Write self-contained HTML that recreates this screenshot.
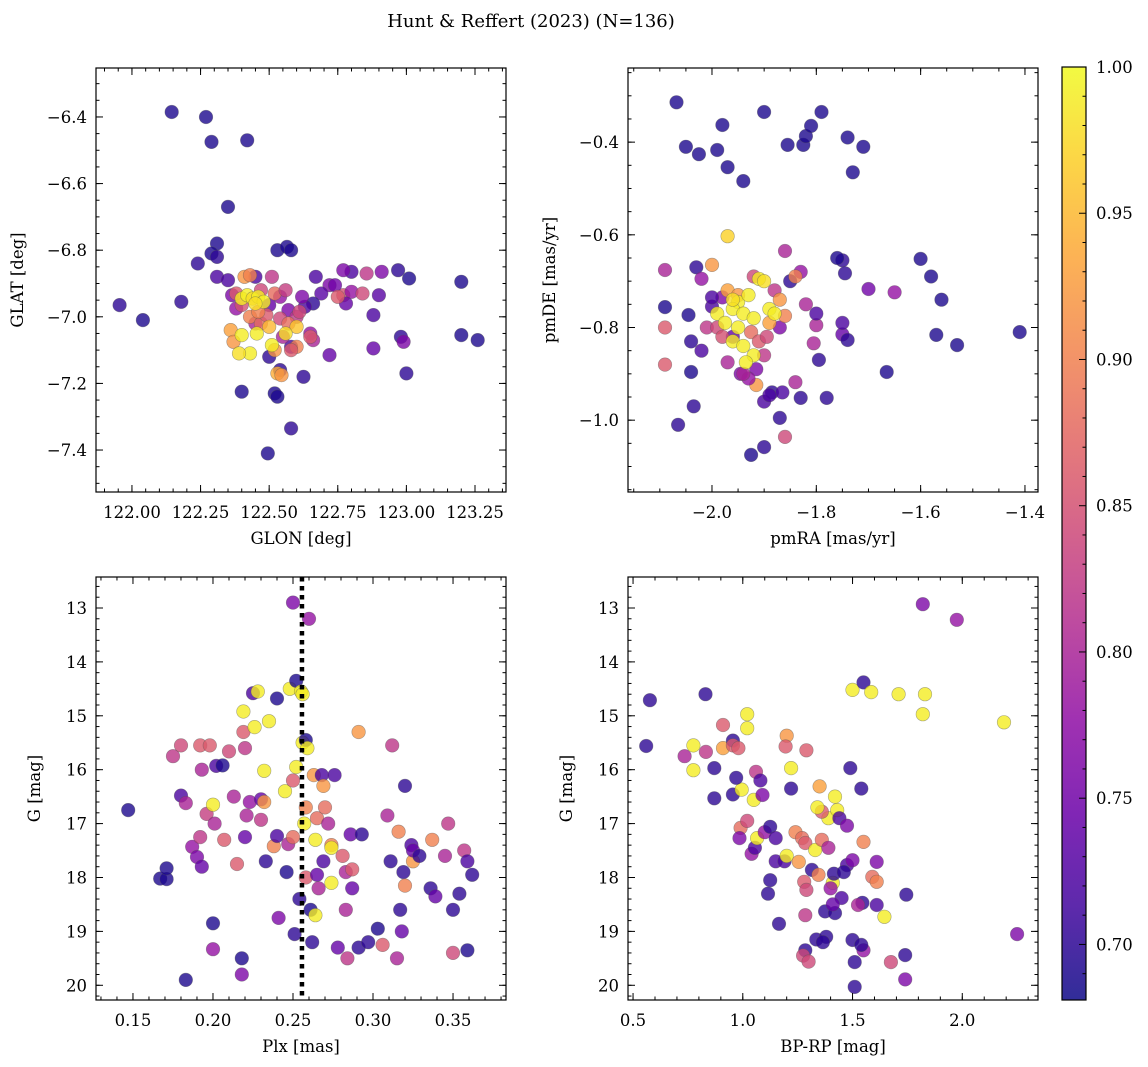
<!DOCTYPE html>
<html><head><meta charset="utf-8">
<style>
html,body{margin:0;padding:0;background:#fff;}
svg{display:block;font-family:"DejaVu Serif","Liberation Serif",serif;}
</style></head>
<body>
<svg id="fig" width="1148" height="1067" viewBox="0 0 1148 1067" xmlns="http://www.w3.org/2000/svg">
<text x="531" y="27" font-size="18" text-anchor="middle">Hunt &amp; Reffert (2023) (N=136)</text>
</svg>
<script>
// ---------- data: panel 1 (GLON / GLAT) ----------
const p1Glon=[122.145,122.27,122.29,122.42,122.35,121.955,122.04,122.18,122.24,122.31,122.29,122.31,122.31,122.40,122.495,122.52,122.53,122.58,122.58,122.53,122.565,122.58,122.625,122.54,123.20,123.20,123.26,123.01,122.97,122.98,123.00,122.99,122.91,122.88,122.90,122.80,122.77,122.855,122.72,122.69,122.77,122.80,122.67,122.72,122.88,122.78,122.66,122.63,122.65,122.74,122.84,122.75,
122.365,122.38,122.45,122.50,122.54,122.57,122.60,122.55,122.47,122.52,122.56,122.62,122.45,122.35,122.50,122.51,122.66,122.61,122.65,
122.41,122.43,122.38,122.40,122.43,122.36,122.37,122.47,122.49,122.54,122.57,122.60,122.58,122.53,122.545,122.46,122.52,
122.40,122.42,122.44,122.46,122.48,122.45,122.40,122.455,122.51,122.43,122.39,122.60,122.50,122.56];
const p1Glat=[-6.385,-6.40,-6.475,-6.47,-6.67,-6.965,-7.01,-6.955,-6.84,-6.78,-6.81,-6.82,-6.88,-7.225,-7.41,-7.23,-7.24,-7.09,-7.335,-6.80,-6.79,-6.80,-7.18,-7.16,-6.895,-7.055,-7.07,-6.885,-6.86,-7.06,-7.17,-7.075,-6.865,-6.995,-6.935,-6.865,-6.86,-6.87,-6.905,-6.93,-6.935,-6.925,-6.88,-7.115,-7.095,-6.96,-6.96,-6.97,-7.05,-6.905,-6.93,-6.94,
-6.935,-6.975,-7.02,-6.965,-6.94,-6.98,-7.00,-7.06,-6.92,-6.93,-6.92,-6.94,-6.88,-6.89,-7.12,-6.88,-7.07,-6.985,-7.06,
-6.88,-6.875,-6.93,-6.965,-7.00,-7.04,-7.075,-7.02,-6.995,-7.005,-7.02,-7.09,-7.10,-7.17,-7.175,-6.985,-7.10,
-6.945,-6.935,-6.945,-6.94,-6.955,-6.96,-7.055,-7.05,-7.085,-7.11,-7.11,-7.03,-7.03,-7.05];
const p1Prob=[0.69,0.69,0.69,0.69,0.69,0.70,0.69,0.70,0.70,0.69,0.69,0.70,0.72,0.69,0.69,0.69,0.69,0.72,0.70,0.69,0.69,0.69,0.70,0.70,0.69,0.69,0.69,0.69,0.70,0.70,0.70,0.76,0.76,0.72,0.73,0.72,0.76,0.82,0.76,0.73,0.85,0.78,0.72,0.74,0.74,0.74,0.70,0.72,0.78,0.75,0.84,0.86,
0.76,0.78,0.80,0.74,0.78,0.76,0.82,0.80,0.84,0.88,0.83,0.76,0.72,0.72,0.70,0.82,0.80,0.84,0.86,
0.92,0.90,0.86,0.85,0.90,0.93,0.92,0.88,0.86,0.84,0.88,0.90,0.86,0.94,0.92,0.90,0.92,
0.99,0.99,0.98,0.99,0.99,0.98,0.99,0.99,0.99,0.99,0.98,0.96,0.95,0.98];
// ---------- data: panel 2 (pmRA / pmDE) ----------
const p2Pmra=[-2.068,-2.05,-2.025,-1.99,-1.98,-1.97,-1.94,-1.90,-1.855,-1.825,-1.82,-1.81,-1.79,-1.74,-1.71,-1.73,
-1.60,-1.58,-1.56,-1.57,-1.53,-1.41,-1.665,-1.65,-1.70,-1.75,-1.76,-1.745,-1.75,-1.75,-1.74,-1.795,-1.78,-1.805,-1.80,
-2.09,-2.09,-2.09,-2.09,-2.065,-2.035,-2.04,-2.045,-2.03,-2.02,-2.04,-2.02,-2.01,-2.0,-2.0,
-1.925,-1.90,-1.86,-1.87,-1.90,-1.885,-1.865,-1.84,-1.83,-1.97,-1.945,-1.915,-1.89,
-1.98,-2.0,-1.96,-1.87,-1.88,-1.82,-1.85,-1.83,-1.86,-1.80,-1.90,-1.915,-1.97,-1.93,
-1.97,-1.95,-1.89,-1.86,-1.87,-1.84,-1.925,-1.91,-1.895,-1.92,-1.99,-1.98,-1.94,
-1.95,-1.93,-1.91,-1.90,-1.96,-1.94,-1.92,-1.95,-1.96,-1.94,-1.92,-1.935,-1.89,-1.88,-1.99,-1.975,-1.96];
const p2Pmde=[-0.314,-0.41,-0.426,-0.417,-0.363,-0.454,-0.484,-0.335,-0.406,-0.406,-0.387,-0.365,-0.335,-0.39,-0.41,-0.465,
-0.652,-0.69,-0.74,-0.816,-0.838,-0.81,-0.896,-0.724,-0.717,-0.655,-0.65,-0.683,-0.815,-0.79,-0.827,-0.87,-0.952,-0.834,-0.795,
-0.676,-0.80,-0.88,-0.756,-1.01,-0.97,-0.896,-0.773,-0.67,-0.695,-0.83,-0.85,-0.80,-0.665,-0.755,
-1.075,-1.058,-1.036,-0.995,-0.96,-0.94,-0.94,-0.918,-0.952,-0.603,-0.90,-0.924,-0.946,
-0.735,-0.735,-0.82,-0.80,-0.72,-0.75,-0.70,-0.68,-0.635,-0.77,-0.86,-0.89,-0.875,-0.91,
-0.72,-0.73,-0.79,-0.775,-0.74,-0.69,-0.81,-0.83,-0.82,-0.69,-0.80,-0.82,-0.90,
-0.745,-0.73,-0.695,-0.70,-0.76,-0.77,-0.78,-0.80,-0.83,-0.84,-0.86,-0.875,-0.76,-0.77,-0.77,-0.79,-0.74];
const p2Prob=[0.69,0.69,0.69,0.69,0.69,0.69,0.69,0.69,0.69,0.69,0.69,0.69,0.69,0.69,0.69,0.69,
0.69,0.69,0.69,0.69,0.69,0.69,0.69,0.78,0.75,0.70,0.69,0.70,0.74,0.72,0.70,0.70,0.70,0.80,0.80,
0.80,0.86,0.86,0.69,0.70,0.70,0.69,0.69,0.70,0.78,0.70,0.72,0.82,0.92,0.72,
0.69,0.70,0.84,0.70,0.72,0.70,0.72,0.80,0.70,0.97,0.76,0.92,0.72,
0.76,0.72,0.74,0.76,0.82,0.80,0.70,0.78,0.80,0.72,0.82,0.76,0.80,0.78,
0.93,0.92,0.93,0.90,0.92,0.90,0.88,0.86,0.84,0.84,0.84,0.85,0.80,
0.99,0.99,0.99,0.98,0.99,0.99,0.99,0.99,0.99,0.99,0.99,0.99,0.99,0.99,0.99,0.99,0.98];
// ---------- data: panel 3 (Plx / G) ----------
const p3Plx=[0.183,0.147,0.167,0.171,0.171,0.175,0.180,0.180,0.183,0.187,0.190,0.192,0.193,0.192,0.193,0.196,0.198,0.200,0.200,0.200,0.201,0.202,0.206,0.207,0.210,0.213,0.215,0.218,0.218,0.219,0.219,0.220,0.220,0.221,0.223,0.225,0.226,0.228,0.230,0.230,0.232,0.232,0.233,0.235,0.238,0.240,0.240,0.241,0.245,0.246,0.247,0.248,0.250,0.250,0.250,0.251,0.252,0.252,0.254,0.255,0.256,0.256,0.257,0.258,0.258,0.258,0.259,0.260,0.261,0.262,0.263,0.264,0.264,0.265,0.265,0.266,0.268,0.269,0.269,0.270,0.272,0.274,0.274,0.274,0.276,0.278,0.281,0.283,0.283,0.284,0.286,0.287,0.287,0.291,0.291,0.293,0.297,0.303,0.306,0.309,0.311,0.312,0.315,0.316,0.317,0.318,0.319,0.320,0.320,0.324,0.325,0.325,0.329,0.336,0.337,0.339,0.345,0.347,0.350,0.350,0.354,0.357,0.359,0.359,0.362];
const p3G=[19.90,16.75,18.02,18.03,17.83,15.75,15.55,16.48,16.62,17.43,17.62,17.25,17.80,15.55,16.00,16.82,15.55,16.65,18.85,19.33,17.00,15.93,15.92,17.30,15.66,16.50,17.75,19.50,19.80,14.92,15.30,15.60,17.25,16.85,16.60,14.58,15.21,14.55,16.55,16.93,16.02,16.60,17.70,15.10,17.42,14.68,17.23,18.75,16.40,17.90,17.38,14.50,12.90,16.20,17.25,19.05,15.95,14.35,18.40,14.55,14.60,15.50,17.00,15.45,18.00,16.70,15.60,13.20,18.60,19.20,16.10,17.30,18.70,16.90,17.95,18.20,16.10,16.30,17.70,16.70,17.00,17.40,17.45,18.10,16.10,19.30,17.60,17.90,18.60,19.50,17.20,17.85,18.20,15.30,19.30,17.20,19.20,18.95,19.25,16.85,17.70,15.55,19.50,17.15,18.60,19.00,17.90,18.15,16.30,17.40,17.70,17.50,17.60,18.20,17.30,18.35,17.60,17.00,18.60,19.40,18.30,17.50,19.35,17.70,17.95];
const p3Prob=[0.69,0.69,0.69,0.69,0.69,0.82,0.84,0.72,0.80,0.78,0.76,0.82,0.74,0.86,0.80,0.83,0.86,0.99,0.69,0.78,0.80,0.72,0.69,0.86,0.84,0.80,0.86,0.69,0.76,0.99,0.86,0.82,0.74,0.80,0.78,0.72,0.99,0.99,0.74,0.82,0.99,0.92,0.70,0.99,0.90,0.69,0.72,0.76,0.99,0.69,0.80,0.99,0.76,0.86,0.88,0.70,0.99,0.69,0.70,0.99,0.99,0.99,0.99,0.69,0.86,0.90,0.99,0.78,0.69,0.70,0.92,0.99,0.99,0.88,0.74,0.80,0.72,0.92,0.72,0.88,0.80,0.90,0.99,0.99,0.72,0.74,0.86,0.80,0.80,0.82,0.74,0.86,0.74,0.92,0.70,0.70,0.70,0.69,0.86,0.80,0.70,0.82,0.80,0.90,0.70,0.74,0.70,0.90,0.70,0.72,0.92,0.74,0.70,0.70,0.90,0.74,0.80,0.82,0.70,0.84,0.70,0.82,0.69,0.72,0.70];
const p3Cut=[0.2556];
// ---------- data: panel 4 (BP-RP / G) ----------
const p4Bprp=[0.577,0.56,0.83,0.735,0.775,0.775,0.832,0.87,0.91,0.91,0.955,0.955,0.98,1.02,1.02,0.87,0.955,0.995,0.97,1.06,1.08,1.05,1.09,1.20,1.195,1.29,1.22,1.22,1.35,1.42,1.39,1.36,1.43,1.34,1.44,1.49,1.54,1.50,1.55,1.585,1.71,1.83,1.82,1.82,1.975,2.19,2.25,
0.99,1.02,0.985,1.04,1.055,1.065,1.10,1.125,1.15,1.15,1.19,1.125,1.115,1.165,1.20,1.24,1.27,1.285,1.255,1.28,1.29,1.285,1.285,1.275,1.30,1.335,1.315,1.345,1.33,1.36,1.39,1.375,1.42,1.38,1.365,1.41,1.40,1.415,1.45,1.41,1.475,1.475,1.50,1.46,1.50,1.51,1.51,1.55,1.54,1.55,1.545,1.59,1.61,1.61,1.61,1.525,1.645,1.745,1.675,1.74,1.74];
const p4G=[14.71,15.56,14.6,15.75,15.55,16.01,15.67,15.97,15.17,15.6,15.46,15.55,15.6,14.97,15.23,16.53,16.46,16.37,16.15,16.04,16.2,16.56,16.47,15.37,15.57,15.64,15.97,16.35,16.31,16.5,16.9,16.78,16.75,16.7,16.9,15.97,16.35,14.52,14.38,14.56,14.6,14.6,14.97,12.93,13.22,15.12,19.05,
17.08,16.95,17.27,17.56,17.45,17.27,17.16,17.06,17.27,17.7,17.7,18.05,18.3,18.86,17.6,17.16,17.27,17.36,17.71,18.08,18.23,18.7,19.35,19.45,19.56,19.15,17.86,17.95,17.49,17.3,17.45,18.63,18.66,19.1,19.2,18.1,18.2,17.93,18.38,18.5,17.04,17.77,17.68,17.9,19.16,19.57,20.03,19.35,19.25,17.34,18.47,17.99,18.08,17.71,18.51,18.51,18.73,18.32,19.57,19.44,19.89];
const p4Prob=[0.70,0.70,0.70,0.80,0.99,0.99,0.82,0.70,0.86,0.93,0.70,0.86,0.86,0.99,0.99,0.70,0.70,0.99,0.70,0.82,0.72,0.99,0.76,0.92,0.86,0.86,0.99,0.70,0.93,0.99,0.99,0.86,0.99,0.99,0.72,0.70,0.70,0.99,0.70,0.99,0.99,0.99,0.99,0.76,0.78,0.99,0.76,
0.88,0.84,0.76,0.78,0.72,0.99,0.78,0.70,0.72,0.72,0.72,0.70,0.70,0.70,0.99,0.90,0.88,0.86,0.92,0.86,0.84,0.82,0.70,0.84,0.84,0.70,0.70,0.90,0.99,0.88,0.80,0.70,0.70,0.70,0.70,0.99,0.78,0.70,0.72,0.74,0.76,0.72,0.76,0.70,0.70,0.70,0.70,0.78,0.70,0.90,0.70,0.88,0.90,0.76,0.72,0.80,0.99,0.70,0.84,0.70,0.76];
// ---------- colour scale ----------
const cbTicks=[0.70,0.75,0.80,0.85,0.90,0.95,1.00];
const cbMin=0.681, cbMax=1.0;

const NS='http://www.w3.org/2000/svg';
const svg=document.getElementById('fig');
const FS=16.5;
function mk(tag,attrs,parent){const e=document.createElementNS(NS,tag);for(const k in attrs)e.setAttribute(k,attrs[k]);(parent||svg).appendChild(e);return e;}
const plasma=[[13,8,135],[65,4,157],[106,0,168],[143,13,164],[177,42,144],[204,71,120],[225,100,98],[242,132,75],[252,166,54],[252,206,37],[240,249,33]];
function cmap(v){let t=(v-cbMin)/(cbMax-cbMin);t=Math.max(0,Math.min(1,t));const f=t*10;const i=Math.min(9,Math.floor(f));const r=f-i;const a=plasma[i],b=plasma[i+1];return `rgb(${Math.round(a[0]+(b[0]-a[0])*r)},${Math.round(a[1]+(b[1]-a[1])*r)},${Math.round(a[2]+(b[2]-a[2])*r)})`;}
function fmt(v,d){return (v<0?'\u2212':'')+Math.abs(v).toFixed(d);}

function panel(cfg){
  const {name,L,T,W,H,xd,yd,yinv,xmaj,xmin,ymaj,ymin,xdec,ydec,xlab,ylab,ylabX,xs,ys,cs}=cfg;
  const g=mk('g',{});
  
  
  const sx=v=>L+(v-xd[0])/(xd[1]-xd[0])*W;
  const sy=v=>yinv? T+(v-yd[0])/(yd[1]-yd[0])*H : T+H-(v-yd[0])/(yd[1]-yd[0])*H;
  const cid='clip-'+name;
  const cp=mk('clipPath',{id:cid},g);mk('rect',{x:L,y:T,width:W,height:H},cp);
  const pts=mk('g',{'clip-path':`url(#${cid})`},g);
  
  
  for(let i=0;i<xs.length;i++){
    const c=mk('circle',{cx:sx(xs[i]).toFixed(1),cy:sy(ys[i]).toFixed(1),r:6.8,fill:cmap(cs[i]),'fill-opacity':0.8,stroke:'#555','stroke-opacity':0.5,'stroke-width':0.6},pts);
    
    
  }
  if(cfg.vline){for(const v of cfg.vline){const l=mk('line',{x1:sx(v),x2:sx(v),y1:T,y2:T+H,stroke:'#000','stroke-width':4.5,'stroke-dasharray':'4.5 4.5'},pts);
    
    }}
  const fr=mk('rect',{x:L,y:T,width:W,height:H,fill:'none',stroke:'#000','stroke-width':1.2},g);
  
  
  const eps=1e-9;
  function ticksX(step,len,label){const s=Math.ceil((xd[0]-eps)/step);for(let k=s;k*step<=xd[1]+eps;k++){const v=k*step;const x=sx(v);
    mk('line',{x1:x,x2:x,y1:T+H,y2:T+H-len,stroke:'#000','stroke-width':1},g);mk('line',{x1:x,x2:x,y1:T,y2:T+len,stroke:'#000','stroke-width':1},g);
    if(label){const t=mk('text',{x:x,y:T+H+26,'font-size':FS,'text-anchor':'middle'},g);t.textContent=fmt(v,xdec);
      
      }}}
  function ticksY(step,len,label){const s=Math.ceil((yd[0]-eps)/step);for(let k=s;k*step<=yd[1]+eps;k++){const v=k*step;const y=sy(v);
    mk('line',{x1:L,x2:L+len,y1:y,y2:y,stroke:'#000','stroke-width':1},g);mk('line',{x1:L+W,x2:L+W-len,y1:y,y2:y,stroke:'#000','stroke-width':1},g);
    if(label){const t=mk('text',{x:L-9,y:y+6,'font-size':FS,'text-anchor':'end'},g);t.textContent=fmt(v,ydec);
      
      }}}
  ticksX(xmin,3.5,false);ticksX(xmaj,7,true);ticksY(ymin,3.5,false);ticksY(ymaj,7,true);
  const xl=mk('text',{x:L+W/2,y:T+H+52,'font-size':FS,'text-anchor':'middle'},g);xl.textContent=xlab;
  
  
  const yl=mk('text',{x:ylabX,y:T+H/2,'font-size':FS,'text-anchor':'middle',transform:`rotate(-90 ${ylabX} ${T+H/2})`},g);yl.textContent=ylab;
  
  
}

panel({name:'glon-glat-panel',L:96,T:68,W:410,H:424,xd:[121.869,123.363],yd:[-7.526,-6.253],yinv:false,xmaj:0.25,xmin:0.05,ymaj:0.2,ymin:0.05,xdec:2,ydec:1,xlab:'GLON [deg]',ylab:'GLAT [deg]',ylabX:23,xs:p1Glon,ys:p1Glat,cs:p1Prob});
panel({name:'pm-panel',L:628,T:68,W:410,H:424,xd:[-2.161,-1.375],yd:[-1.155,-0.24],yinv:false,xmaj:0.2,xmin:0.05,ymaj:0.2,ymin:0.05,xdec:1,ydec:1,xlab:'pmRA [mas/yr]',ylab:'pmDE [mas/yr]',ylabX:555,xs:p2Pmra,ys:p2Pmde,cs:p2Prob});
panel({name:'plx-g-panel',L:96,T:577,W:410,H:423,xd:[0.1269,0.3831],yd:[12.425,20.273],yinv:true,xmaj:0.05,xmin:0.01,ymaj:1,ymin:0.2,xdec:2,ydec:0,xlab:'Plx [mas]',ylab:'G [mag]',ylabX:40,xs:p3Plx,ys:p3G,cs:p3Prob,vline:p3Cut});
panel({name:'cmd-panel',L:628,T:577,W:410,H:423,xd:[0.477,2.345],yd:[12.425,20.273],yinv:true,xmaj:0.5,xmin:0.1,ymaj:1,ymin:0.2,xdec:1,ydec:0,xlab:'BP-RP [mag]',ylab:'G [mag]',ylabX:572,xs:p4Bprp,ys:p4G,cs:p4Prob});

(function(){
  const L=1062,T=67,W=24,H=933;
  const g=mk('g',{});
  
  
  const defs=mk('defs',{},g);
  const lg=mk('linearGradient',{id:'cbgrad',x1:0,y1:1,x2:0,y2:0},defs);
  for(let i=0;i<=20;i++){const v=cbMin+(cbMax-cbMin)*i/20;mk('stop',{offset:(i/20),'stop-color':cmap(v),'stop-opacity':0.85},lg);}
  mk('rect',{x:L,y:T,width:W,height:H,fill:'url(#cbgrad)',stroke:'#000','stroke-width':1.2},g);
  const sy=v=>T+H-(v-cbMin)/(cbMax-cbMin)*H;
  for(let k=69;k<=100;k++){const v=k/100;if(v<cbMin)continue;const y=sy(v);const maj=(k%5===0);
    mk('line',{x1:L+W,x2:L+W-(maj?7:3.5),y1:y,y2:y,stroke:'#000','stroke-width':1},g);}
  for(const v of cbTicks){const t=mk('text',{x:L+W+10,y:sy(v)+6,'font-size':FS},g);t.textContent=v.toFixed(2);
    
    }
})();
</script>
</body></html>
